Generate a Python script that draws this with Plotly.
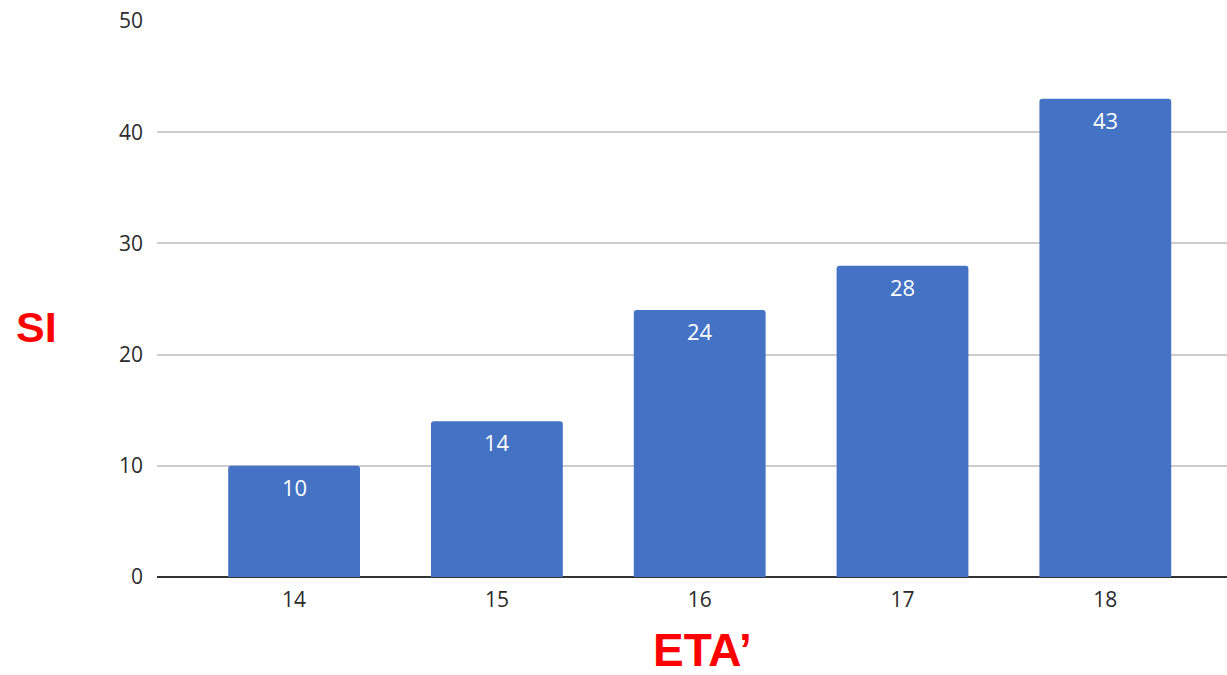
import plotly.graph_objects as go

categories = ["14", "15", "16", "17", "18"]
values = [10, 14, 24, 28, 43]
y_ticks = [0, 10, 20, 30, 40, 50]

BAR_COLOR = "#4472C4"

fig = go.Figure()
fig.add_trace(go.Bar(
    x=list(range(len(categories))),
    y=values,
    width=0.65,
    marker=dict(color=BAR_COLOR, line=dict(width=0), cornerradius=3),
    hoverinfo="skip",
))

# value labels just inside the top of each bar
for i, v in enumerate(values):
    fig.add_annotation(
        x=i, y=v, xref="x", yref="y", text=str(v), showarrow=False,
        yshift=-21, font=dict(family="Open Sans", size=22, color="white"),
    )

# axis titles
fig.add_annotation(x=-0.113, y=0.45, xref="paper", yref="paper", text="<b>SI</b>",
                   showarrow=False, xanchor="center", yanchor="middle",
                   font=dict(family="Liberation Sans", size=43, color="#FF0000"))
fig.add_annotation(x=0.51, y=-0.132, xref="paper", yref="paper", text="<b>ETA’</b>",
                   showarrow=False, xanchor="center", yanchor="middle",
                   font=dict(family="Liberation Sans", size=46, color="#FF0000"))

fig.update_layout(
    width=1227, height=675,
    margin=dict(l=157, r=0, t=21, b=98),
    plot_bgcolor="white", paper_bgcolor="white",
    showlegend=False,
    font=dict(family="Open Sans", color="#333333"),
    xaxis=dict(
        range=[-0.676, 4.60],
        tickmode="array", tickvals=list(range(len(categories))), ticktext=categories,
        tickfont=dict(size=21, color="#2b2b2b"),
        showgrid=False, zeroline=False, showline=False, ticks="",
        ticklabelstandoff=8,
    ),
    yaxis=dict(
        range=[0, 50],
        tickmode="array", tickvals=y_ticks,
        tickfont=dict(size=21, color="#2b2b2b"),
        showgrid=True, gridcolor="#CCCCCC", gridwidth=1.5,
        zeroline=True, zerolinecolor="#333333", zerolinewidth=2,
        showline=False, ticks="", ticklabelstandoff=13,
    ),
)

fig.write_html("out.html")
